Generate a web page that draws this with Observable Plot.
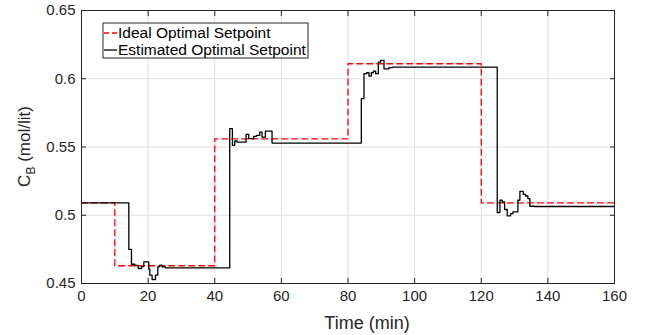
<!DOCTYPE html>
<html>
<head>
<meta charset="utf-8">
<script src="https://cdn.jsdelivr.net/npm/d3@7"></script>
<script src="https://cdn.jsdelivr.net/npm/@observablehq/plot@0.6"></script>
<style>
  html, body { margin: 0; padding: 0; background: #fff; }
  #chart { width: 651px; height: 335px; }
</style>
</head>
<body>
<div id="chart"></div>
<script>
// ---- data ----
const xTicks = [0, 20, 40, 60, 80, 100, 120, 140, 160];
const yTicks = [0.45, 0.5, 0.55, 0.6, 0.65];
const yTickLabels = ["0.45", "0.5", "0.55", "0.6", "0.65"];

const idealTime = [0, 10, 40, 80, 120, 160];
const idealValue = [0.509, 0.463, 0.556, 0.611, 0.509, 0.509];

const estTime = [0, 14.2, 15.0, 16.0, 17.0, 18.0, 18.7, 20.2, 20.5, 21.2, 22.2, 22.9, 23.5, 24.2, 25.2,
  44.5, 45.3, 46.0, 46.7, 49.4, 50.2, 51.7, 52.5, 53.5, 54.2, 55.2, 57.2,
  84.0, 84.8, 85.6, 86.3, 87.0, 87.6, 88.3, 89.1, 89.8, 90.8, 92.3, 93.3,
  124.8, 125.6, 126.3, 127.0, 127.8, 128.8, 129.5, 131.0, 131.6, 132.6, 133.3, 134.0, 134.6, 135.8, 160];
const estValue = [0.509, 0.475, 0.4641, 0.4632, 0.461, 0.4624, 0.4658, 0.4605, 0.4561, 0.4529, 0.4561, 0.4622, 0.4634, 0.4622, 0.4614,
  0.5634, 0.5512, 0.5544, 0.5536, 0.5593, 0.5561, 0.5578, 0.5585, 0.5609, 0.5573, 0.5617, 0.5529,
  0.5854, 0.6037, 0.6044, 0.6019, 0.6044, 0.6056, 0.6037, 0.6122, 0.6134, 0.6073, 0.6082, 0.6085,
  0.502, 0.511, 0.5097, 0.5042, 0.4995, 0.5012, 0.5024, 0.511, 0.5175, 0.5153, 0.5141, 0.5122, 0.5066, 0.5064, 0.5064];

const legendLabels = ["Ideal Optimal Setpoint", "Estimated Optimal Setpoint"];
const xLabel = "Time (min)";
const yLabelMain = "C";
const yLabelSub = "B";
const yLabelRest = " (mol/lit)";

// ---- build ----
const ideal = idealTime.map((t, i) => ({t, v: idealValue[i]}));
const est = estTime.map((t, i) => ({t, v: estValue[i]}));

const FONT = "'Liberation Sans', Arial, Helvetica, sans-serif";
const INK = "#262626";

const plot = Plot.plot({
  width: 651,
  height: 335,
  marginLeft: 81,
  marginRight: 37,
  marginTop: 10,
  marginBottom: 52,
  style: {fontFamily: FONT, background: "#fff", overflow: "visible"},
  x: {domain: [0, 160], ticks: xTicks},
  y: {domain: [0.45, 0.65], ticks: yTicks},
  marks: [
    Plot.gridX(xTicks, {stroke: "#dfdfdf", strokeOpacity: 1, strokeWidth: 1}),
    Plot.gridY(yTicks, {stroke: "#dfdfdf", strokeOpacity: 1, strokeWidth: 1}),
    Plot.line(ideal, {x: "t", y: "v", curve: "step-after", stroke: "#ff0000", strokeWidth: 1.3, strokeDasharray: "6,4"}),
    Plot.line(est, {x: "t", y: "v", curve: "step-after", stroke: "#000", strokeWidth: 1.3}),
    Plot.frame({stroke: INK, strokeWidth: 1}),
    // inward ticks
    Plot.axisX(xTicks, {anchor: "bottom", tickSize: -5, text: null, label: null, stroke: INK}),
    Plot.axisX(xTicks, {anchor: "top", tickSize: -5, text: null, label: null, stroke: INK}),
    Plot.axisY(yTicks, {anchor: "left", tickSize: -5, text: null, label: null, stroke: INK}),
    Plot.axisY(yTicks, {anchor: "right", tickSize: -5, text: null, label: null, stroke: INK}),
    // tick labels
    Plot.axisX(xTicks, {anchor: "bottom", tickSize: 0, tickPadding: 7, fontSize: 15, fill: INK, label: null, tickFormat: d => String(d)}),
    Plot.axisY(yTicks, {anchor: "left", tickSize: 0, tickPadding: 6, fontSize: 15, fill: INK, label: null, tickFormat: (d, i) => yTickLabels[i]})
  ]
});

document.getElementById("chart").appendChild(plot);

// ---- labels and legend ----
const svg = d3.select(plot);
const ys = plot.scale("y");
const [y0, y1] = ys.range;

svg.append("text")
  .attr("x", 367).attr("y", 329)
  .attr("text-anchor", "middle")
  .attr("font-family", FONT).attr("font-size", 18).attr("fill", INK)
  .text(xLabel);

const yl = svg.append("text")
  .attr("transform", `translate(30,${(y0 + y1) / 2}) rotate(-90)`)
  .attr("text-anchor", "middle")
  .attr("font-family", FONT).attr("font-size", 17).attr("fill", INK);
yl.append("tspan").text(yLabelMain);
yl.append("tspan").attr("font-size", 12).attr("dy", 5).text(yLabelSub);
yl.append("tspan").attr("dy", -5).text(yLabelRest);

const lg = svg.append("g");
lg.append("rect").attr("x", 103).attr("y", 23).attr("width", 205).attr("height", 35)
  .attr("fill", "#fff").attr("stroke", INK).attr("stroke-width", 1);
const styles = [{stroke: "#ff0000", dash: "5,3"}, {stroke: "#000", dash: null}];
legendLabels.forEach((lab, i) => {
  const cy = 33 + i * 17;
  lg.append("line").attr("x1", 104).attr("x2", 117).attr("y1", cy).attr("y2", cy)
    .attr("stroke", styles[i].stroke).attr("stroke-width", 1.3)
    .attr("stroke-dasharray", styles[i].dash);
  lg.append("text").attr("x", 118).attr("y", cy).attr("dy", "0.35em")
    .attr("text-anchor", "start")
    .attr("font-family", FONT).attr("font-size", 15.5).attr("fill", "#000").text(lab);
});
</script>
</body>
</html>
